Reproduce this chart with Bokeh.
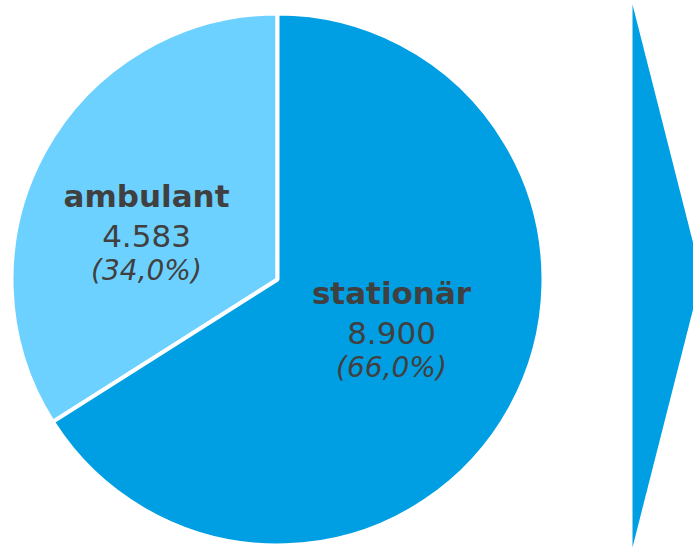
import math

from bokeh.core.properties import value
from bokeh.embed import file_html
from bokeh.models import ColumnDataSource
from bokeh.plotting import figure
from bokeh.resources import INLINE

# Treatment cases by setting
categories = ["ambulant", "stationär"]
cases = [4583, 8900]
colors = ["#6DD1FF", "#009FE3"]

W, H = 693, 547
CX, CY, R = 277, H - 279, 264
TEXT = "#404040"
FONT = "DejaVu Sans"

total = sum(cases)


def de_int(n):
    return f"{n:,}".replace(",", ".")


def de_pct(x):
    return f"({x:.1f}%)".replace(".", ",")


# ambulant runs counter-clockwise from 12 o'clock, stationär takes the rest
starts, ends = [], []
a0 = math.pi / 2
amb = 2 * math.pi * cases[0] / total
starts.append(a0)
ends.append(a0 + amb)
starts.append(a0 + amb)
ends.append(a0 + 2 * math.pi)

p = figure(width=W, height=H, x_range=(0, W), y_range=(0, H),
           output_backend="svg", toolbar_location=None,
           min_border=0, match_aspect=False)
p.axis.visible = False
p.grid.visible = False
p.outline_line_color = None
p.background_fill_color = "white"

src = ColumnDataSource(dict(start=starts, end=ends, color=colors))
p.wedge(x=CX, y=CY, radius=R + 2, start_angle="start", end_angle="end",
        fill_color="color", line_color="white", line_width=4, source=src)

# chevron on the right edge
p.patch(x=[632, 632, 701], y=[H - 4, H - 547, H - 275.5],
        fill_color=colors[1], line_color=None)

# label anchors (first line)
anchors = [(146, H - 195), (391, H - 292)]
for cat, n, (ax, ay) in zip(categories, cases, anchors):
    p.text(x=[ax], y=[ay], text=[cat], text_align="center",
           text_baseline="alphabetic", text_color=TEXT,
           text_font=value(FONT), text_font_style="bold",
           text_font_size="31px")
    p.text(x=[ax], y=[ay - 40], text=[de_int(n)], text_align="center",
           text_baseline="alphabetic", text_color=TEXT,
           text_font=value(FONT), text_font_size="31px")
    p.text(x=[ax], y=[ay - 75], text=[de_pct(100 * n / total)],
           text_align="center", text_baseline="alphabetic",
           text_color=TEXT, text_font=value(FONT),
           text_font_style="italic", text_font_size="28px")

open("out.html", "w").write(file_html(p, INLINE))
